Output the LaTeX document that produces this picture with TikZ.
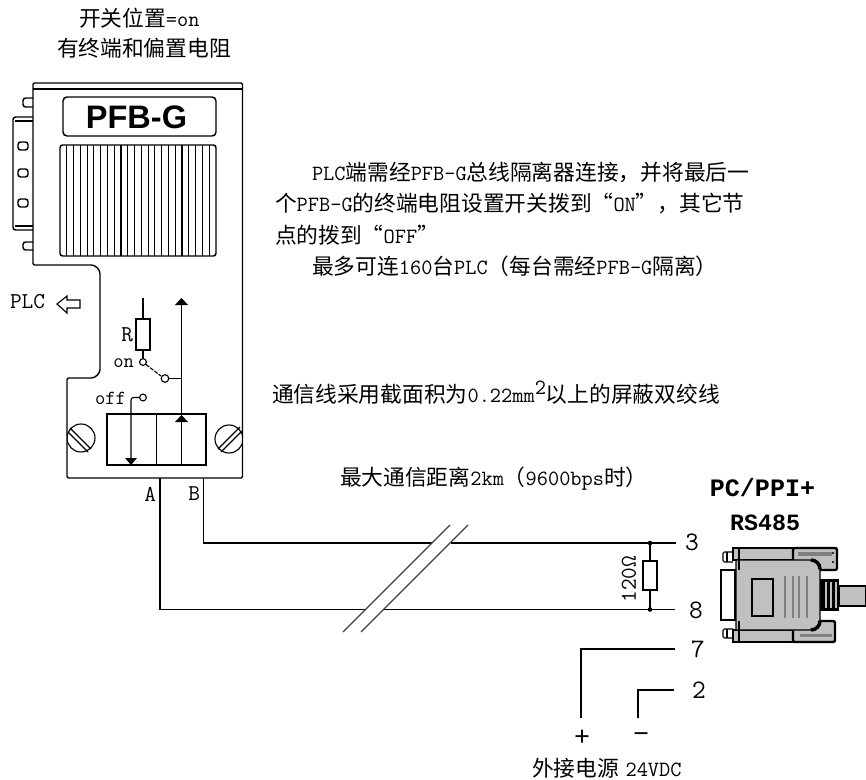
\documentclass[tikz,border=0pt]{standalone}
\usepackage{fontspec}
\setmainfont{Liberation Mono}
\newfontfamily\cjk{Noto Sans CJK SC}
\newfontfamily\hei{Liberation Sans}
\newfontfamily\libm{Liberation Mono}
\newcommand{\lat}{\ttfamily\addfontfeature{FakeBold=0.5}}
\newcommand{\M}[1]{{\lat\fontsize{16.3pt}{18pt}\selectfont #1}}
\tikzset{
  wire/.style={line width=1.1pt,black},
  thin wire/.style={line width=0.85pt,black},
  txt/.style={inner sep=0pt,outer sep=0pt,anchor=base west,font=\cjk\fontsize{16.3pt}{18pt}\selectfont},
  small/.style={inner sep=0pt,outer sep=0pt,font=\lat\fontsize{15pt}{16pt}\selectfont},
  letter/.style={inner sep=0pt,outer sep=0pt,font=\lat\fontsize{17pt}{18pt}\selectfont},
  pinlabel/.style={inner sep=0pt,outer sep=0pt,font=\lat\fontsize{20pt}{22pt}\selectfont},
  sign/.style={inner sep=0pt,outer sep=0pt,font=\libm\fontsize{20pt}{22pt}\selectfont},
  title/.style={inner sep=0pt,outer sep=0pt,font=\libm\bfseries\fontsize{18.8pt}{20pt}\selectfont},
  tip/.style={fill=black,draw=none},
  grayfill/.style={fill=connector,draw=black,line width=1.8pt},
}
\definecolor{connector}{RGB}{192,192,192}
\definecolor{rib}{RGB}{128,128,128}
\begin{document}
\begin{tikzpicture}[x=0.75pt,y=-0.75pt]
\useasboundingbox (0,0) rectangle (866,780);
% top text
\node[txt] (t1) at (79,27) {开关位置\M{=on}};
\node[txt] (t2) at (57,57) {有终端和偏置电阻};
% device outline
\draw[wire,rounded corners=1pt] (33,89) -- (33,83) -- (242.5,83) -- (242.5,478) -- (67,478) -- (67,378) -- (90,378)
  arc[start angle=90,end angle=0,radius=10] -- (100,275) arc[start angle=0,end angle=-90,radius=10] -- (33,265) -- cycle;
\draw[wire] (33,89) -- (242.5,89);
% connector at the left
\draw[wire,rounded corners=2pt] (33,98) -- (23,98) -- (23,107) -- (33,107);
\draw[wire,rounded corners=2pt] (33,242) -- (23,242) -- (23,250) -- (33,250);
\draw[wire,rounded corners=2pt] (33,117) -- (13,117) -- (13,230) -- (33,230);
\draw[wire] (15,121) -- (33,121) (15,226) -- (33,226);
\foreach \y in {146,173,203}
  \draw[wire,rounded corners=2pt] (18,\y-4) rectangle (28,\y+4);
% label box
\draw[wire,rounded corners=3pt] (63,97) rectangle (216,136);
\node[inner sep=0pt,font=\hei\bfseries\fontsize{24.4pt}{26pt}\selectfont] (name) at (136.5,117) {PFB-G};
% grille
\draw[wire,rounded corners=2pt] (60,145) rectangle (216,256);
\foreach \i in {1,...,22}
  \draw[thin wire] ({60+\i*6.78},145) -- ({60+\i*6.78},256);
% PLC arrow
\node[letter,anchor=west] (plc) at (10,302) {PLC};
\draw[thin wire] (57,304) -- (67,296) -- (67,300) -- (80,300) -- (80,308) -- (67,308) -- (67,313) -- cycle;
% resistor and switch
\node[letter,anchor=east] (rl) at (133,335) {R};
\node[small,anchor=east] (onl) at (134,363) {on};
\node[small,anchor=east] (offl) at (126,398) {off};
\draw[thin wire] (136,319) rectangle (150,350);
\coordinate (rtop) at (143,298);
\draw[thin wire] (rtop) -- (143,319) (143,350) -- (143,358.5);
\draw[thin wire] (143,362) circle[radius=3.4];
\draw[thin wire,dash pattern=on 3pt off 1pt] (146,364.5) -- (161,376);
\draw[thin wire] (165,378.5) circle[radius=3.8];
\draw[thin wire] (169,378.5) -- (181.5,378.5);
\draw[wire] (181.5,302) -- (181.5,465);
\fill[tip] (181.5,298) -- (188,305) -- (175,305) -- cycle;
\fill[tip] (181.5,415) -- (188,422) -- (175,422) -- cycle;
% off contact
\draw[thin wire] (143,397.5) circle[radius=3.4];
\draw[thin wire,rounded corners=2pt] (139.5,397.5) -- (131,397.5) -- (131,460);
\fill[tip] (131,465) -- (125,458) -- (137,458) -- cycle;
% terminal block
\draw[wire] (107,414) rectangle (206,465);
\draw[wire] (156.5,414) -- (156.5,465);
% screws
\begin{scope}
\clip (67,420) rectangle (100,455);
\draw[thin wire] (81,438) circle[radius=14];
\draw[thin wire] (70,428) -- (91,449) (68,432) -- (88,452);
\end{scope}
\begin{scope}
\clip (210,420) rectangle (242.5,455);
\draw[thin wire] (229,439) circle[radius=14];
\draw[thin wire] (221,452) -- (242,431) (218,449) -- (240,427);
\end{scope}
% A, B wires
\coordinate (a0) at (160,478);
\coordinate (b0) at (203.5,478);
\coordinate (a1) at (160,609.5);
\coordinate (b1) at (203.5,543);
\coordinate (p3) at (676,543);
\coordinate (p8) at (675,609.5);
\coordinate (ag1) at (365,609.5);
\coordinate (ag2) at (383,609.5);
\coordinate (bg1) at (432,543);
\coordinate (bg2) at (451,543);
\draw[wire] (a0) -- (a1) -- (ag1) (ag2) -- (p8);
\draw[wire] (b0) -- (b1) -- (bg1) (bg2) -- (p3);
\node[letter,anchor=east] (al) at (156,494) {A};
\node[letter,anchor=east] (bl) at (200,494) {B};
% break marks
\draw[line width=0.85pt,black!75] (450,525) -- (343,632);
\draw[line width=0.85pt,black!75] (468,525) -- (361,632);
% terminating resistor
\coordinate (d3) at (650,543);
\coordinate (d8) at (650,609.5);
\fill (d3) circle[radius=2.3] (d8) circle[radius=2.3];
\draw[wire] (d3) -- (650,561) (650,590) -- (d8);
\draw[wire] (643,561) rectangle (657,590);
\node[letter,rotate=90] (ohm) at (629,579) {120Ω};
% pins
\node[pinlabel] (n3) at (692,542) {3};
\node[pinlabel] (n8) at (696,610) {8};
\node[pinlabel] (n7) at (698,649) {7};
\node[pinlabel] (n2) at (699,690) {2};
\coordinate (p7) at (675,649);
\coordinate (p2) at (674,690);
\coordinate (plus) at (581,718);
\coordinate (minus) at (638,718);
\draw[wire] (p7) -- (581,649) -- (plus);
\draw[wire] (p2) -- (638,690) -- (minus);
\node[sign] (pl) at (582,738) {+};
\node[sign] (mi) at (641,738) {−};
\node[txt] (ext) at (532,776) {外接电源\hspace{5pt}\M{24VDC}};
% right text
\node[txt] (l1) at (312,181) {\M{PLC}端需经\M{PFB-G}总线隔离器连接，并将最后一};
\node[txt] (l2) at (275,212) {个\M{PFB-G}的终端电阻设置开关拨到“\M{ON}”，其它节};
\node[txt] (l3) at (275,244) {点的拨到“\M{OFF}”};
\node[txt] (l4) at (312,275) {最多可连\M{160}台\M{PLC}（每台需经\M{PFB-G}隔离）};
\node[txt] (l5) at (272,402) {通信线采用截面积为\M{0.22mm}\raisebox{6pt}{\M{2}}以上的屏蔽双绞线};
\node[txt] (l6) at (340,485) {最大通信距离\M{2km}（\M{9600bps}时）};
\node[title] (pc) at (762.5,488) {PC/PPI+};
\node[title,font=\libm\bfseries\fontsize{17.5pt}{19pt}\selectfont] (rs) at (765,523) {RS485};
% PC connector
\draw[fill=connector,draw=black,line width=1pt] (839,586) rectangle (866,606);
\fill[black] (820,579) rectangle (839,611);
\foreach \x in {826,831,836} \fill[connector] (\x-1,582) rectangle (\x+1,608);
\draw[line width=1.8pt,black,fill=white] (721,570) rectangle (735,620);
\draw[thin wire,rounded corners=1pt] (733,552) -- (723,552) -- (723,562) -- (733,562);
\draw[thin wire,rounded corners=1pt] (733,629) -- (723,629) -- (723,638) -- (733,638);
\draw[thin wire] (727,552) -- (727,562) (727,629) -- (727,638);
\draw[grayfill] (733,548) rectangle (793,560);
\draw[grayfill] (733,630) rectangle (793,642);
\draw[grayfill,rounded corners=1.5pt] (793,548) rectangle (837,570);
\draw[grayfill,rounded corners=1.5pt] (793,621) rectangle (835,642);
\fill[rib] (798,552) rectangle (832,556);
\fill[rib] (800,634) rectangle (832,637);
\fill[black] (833,553) circle[radius=1.2] (833,562) circle[radius=1.2];
\draw[line width=1pt,black,fill=connector] (736,560) -- (810,560)
   arc[start angle=-90,end angle=0,radius=10] -- (820,620) arc[start angle=0,end angle=90,radius=10] -- (736,630) -- cycle;
\draw[line width=2.6pt,black] (811,560) arc[start angle=-90,end angle=0,radius=9];
\draw[line width=2.6pt,black] (820,621) arc[start angle=0,end angle=90,radius=9];
\draw[line width=1.8pt,black] (739,548) -- (739,570) (739,621) -- (739,642);
\draw[thin wire,fill=connector] (752,579) rectangle (773,616);
\foreach \x in {785,793,799,807} \draw[rib,line width=1pt] (\x,576) -- (\x,618);
\end{tikzpicture}
\end{document}
